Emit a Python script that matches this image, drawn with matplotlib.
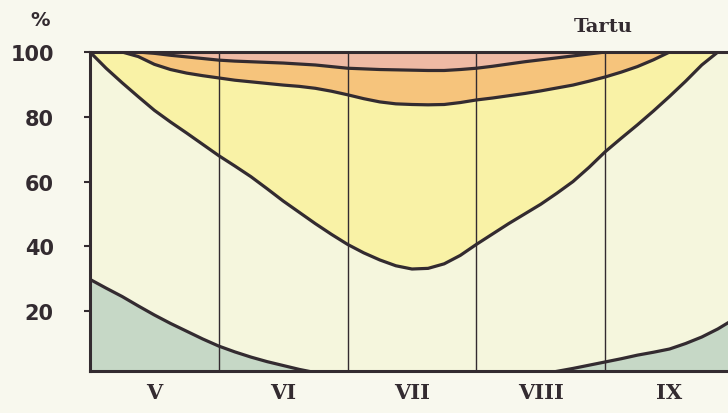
import matplotlib.pyplot as plt
import numpy as np

# months as intervals, boundaries read every eighth of a month
t = np.arange(0, 5.001, 0.125)
months = ['V', 'VI', 'VII', 'VIII', 'IX']

# cumulative boundaries (%), bottom to top
b1 = [29.8, 27.1, 24.5, 21.6, 18.8, 16.2, 13.8, 11.4, 9.2, 7.4, 5.8, 4.4, 3.2, 2.0, 1.0, 0.3,
      0, 0, 0, 0, 0, 0, 0, 0, 0, 0, 0, 0,
      0.5, 1.4, 2.3, 3.3, 4.3, 5.3, 6.4, 7.3, 8.3, 10.0, 12.0, 14.5, 17.5]
b2 = [100, 95, 90.5, 86.2, 82, 78.4, 75, 71.5, 68, 64.8, 61.5, 57.8, 54, 50.5, 47, 43.7,
      40.6, 38, 35.8, 34, 33, 33.2, 34.6, 37.2, 40.6, 43.8, 47, 50, 53, 56.4, 60, 64.4,
      69.2, 73.4, 77.5, 81.8, 86.3, 91, 96, 100, 100]
b3 = [100, 100, 100, 98.6, 96.2, 94.6, 93.5, 92.7, 92, 91.3, 90.8, 90.3, 89.8, 89.4, 88.8, 87.9,
      86.8, 85.6, 84.6, 84, 83.8, 83.7, 83.8, 84.4, 85.2, 85.8, 86.5, 87.2, 88, 88.9, 89.8, 91,
      92.3, 93.8, 95.5, 97.6, 100, 100, 100, 100, 100]
b4 = [100, 100, 100, 100, 99.6, 99, 98.5, 98, 97.5, 97.2, 97, 96.8, 96.6, 96.3, 96, 95.5,
      95, 94.8, 94.6, 94.5, 94.4, 94.3, 94.3, 94.6, 95, 95.6, 96.3, 97, 97.6, 98.2, 98.8, 99.4,
      100, 100, 100, 100, 100, 100, 100, 100, 100]

band_colors = ['#c6d8c6', '#f5f6dd', '#f9f2a6', '#f6c47c', '#efbaa4']
ink = '#332b30'
bg = '#f8f8ee'

fig = plt.figure(figsize=(7.28, 4.14), dpi=100, facecolor=bg)
ax = fig.add_axes([0.1236, 0.1014, 0.8846, 0.7705])
ax.set_facecolor(bg)

bounds = [np.zeros_like(t), b1, b2, b3, b4, np.full_like(t, 100)]
for i in range(5):
    ax.fill_between(t, bounds[i], bounds[i + 1], color=band_colors[i], lw=0)
for b in [b1, b2, b3, b4]:
    ax.plot(t, b, color=ink, lw=2.3, solid_joinstyle='round', solid_capstyle='round')

for m in range(1, 5):
    ax.axvline(m, color=ink, lw=1.0)

ax.set_xlim(0, 5)
ax.set_ylim(1.5, 100)
ax.set_xticks(np.arange(5) + 0.5)
ax.set_xticklabels(months, family='DejaVu Serif', fontweight='bold', fontsize=15, color=ink)
ax.tick_params(axis='x', length=0, pad=8)
ax.set_yticks([20, 40, 60, 80, 100])
ax.set_yticklabels(['20', '40', '60', '80', '100'], fontweight='bold', fontsize=15, color=ink)
ax.tick_params(axis='y', length=4, width=1.5, color=ink, pad=22)
for s in ['left', 'top', 'bottom']:
    ax.spines[s].set_linewidth(2.2)
    ax.spines[s].set_color(ink)
ax.spines['right'].set_visible(False)

fig.text(40 / 728, 1 - 20 / 414, '%', fontsize=14, fontweight='bold', color=ink, ha='center', va='center')
fig.text(603 / 728, 1 - 27 / 414, 'Tartu', family='DejaVu Serif', fontsize=14, fontweight='bold',
         color=ink, ha='center', va='center')

fig.savefig('out.png', dpi=100, facecolor=bg)
